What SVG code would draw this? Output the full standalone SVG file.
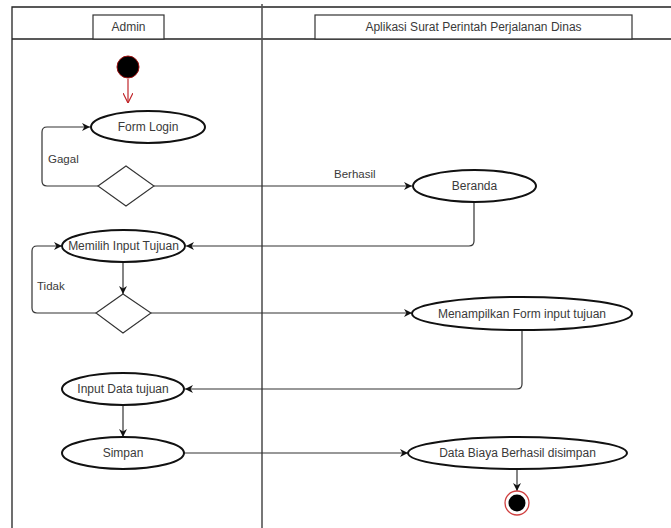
<svg xmlns="http://www.w3.org/2000/svg" width="671" height="528" viewBox="0 0 671 528">
<defs>
<style>
.frame{stroke:#222;stroke-width:1.3;fill:none}
.lane{fill:#fff;stroke:#333;stroke-width:1.2}
.act{fill:#fff;stroke:#111;stroke-width:2}
.dec{fill:#fff;stroke:#333;stroke-width:1.1}
.edge{fill:none;stroke:#333;stroke-width:1.2}
.t{font-family:"Liberation Sans",Arial,sans-serif;font-size:12px;fill:#3a3a3a;text-anchor:middle}
.lbl{font-family:"Liberation Sans",Arial,sans-serif;font-size:11.5px;fill:#3a3a3a}
.h{font-family:"Liberation Sans",Arial,sans-serif;font-size:12px;fill:#3a3a3a;text-anchor:middle}
</style>
<marker id="ah" viewBox="0 0 10 10" refX="10" refY="5" markerWidth="8" markerHeight="8" markerUnits="userSpaceOnUse" orient="auto">
<path d="M0,0 L10,5 L0,10 L3,5 Z" fill="#111"/>
</marker>
<marker id="ahr" viewBox="0 0 10 10" refX="10" refY="5" markerWidth="10" markerHeight="10" markerUnits="userSpaceOnUse" orient="auto">
<path d="M0,0 L10,5 L0,10" fill="none" stroke="#c0262a" stroke-width="1.2"/>
</marker>
</defs>
<rect width="671" height="528" fill="#fff"/>
<g id="frame">
<path class="frame" d="M671,7 H12 V528"/>
<path class="frame" d="M12,39 H671"/>
<line x1="262" y1="4" x2="262" y2="528" stroke="#555" stroke-width="1.6"/>
</g>
<g id="lane-admin">
<rect class="lane" x="93" y="15" width="71" height="24"/>
<text class="h" x="128.5" y="31">Admin</text>
</g>
<g id="lane-app">
<rect class="lane" x="315" y="15" width="317" height="24"/>
<text class="h" x="473.5" y="31">Aplikasi Surat Perintah Perjalanan Dinas</text>
</g>
<g id="connectors">
<line x1="128" y1="79" x2="128" y2="103" stroke="#c0262a" stroke-width="1.2" marker-end="url(#ahr)"/>
<path class="edge" d="M98,186 H47 Q42,186 42,181 V132 Q42,127 47,127 H90" marker-end="url(#ah)"/>
<line class="edge" x1="154" y1="186" x2="412" y2="186" marker-end="url(#ah)"/>
<path class="edge" d="M474,202 V241 Q474,246 469,246 H186" marker-end="url(#ah)"/>
<path class="edge" d="M96,313 H37 Q32,313 32,308 V251 Q32,246 37,246 H62" marker-end="url(#ah)"/>
<line class="edge" x1="123" y1="262" x2="123" y2="294" marker-end="url(#ah)"/>
<line class="edge" x1="151" y1="313" x2="412" y2="313" marker-end="url(#ah)"/>
<path class="edge" d="M522,330 V384 Q522,389 517,389 H185" marker-end="url(#ah)"/>
<line class="edge" x1="123" y1="405" x2="123" y2="437" marker-end="url(#ah)"/>
<line class="edge" x1="184" y1="453" x2="408" y2="453" marker-end="url(#ah)"/>
<line class="edge" x1="517" y1="469" x2="517" y2="491" marker-end="url(#ah)"/>
<text class="lbl" x="48" y="163">Gagal</text>
<text class="lbl" x="334" y="178">Berhasil</text>
<text class="lbl" x="37" y="290">Tidak</text>
</g>
<g id="start">
<circle cx="128" cy="67" r="11" fill="#000" stroke="#a01010" stroke-width="1"/>
</g>
<g id="form-login">
<ellipse class="act" cx="148" cy="127" rx="57" ry="16"/>
<text class="t" x="148" y="131">Form Login</text>
</g>
<g id="decision-login">
<polygon class="dec" points="98,186 126,166 154,186 126,206"/>
</g>
<g id="beranda">
<ellipse class="act" cx="474.5" cy="186" rx="61.5" ry="16"/>
<text class="t" x="474.5" y="190">Beranda</text>
</g>
<g id="memilih-input">
<ellipse class="act" cx="123.5" cy="246" rx="61.5" ry="16"/>
<text class="t" x="123.5" y="250">Memilih Input Tujuan</text>
</g>
<g id="decision-input">
<polygon class="dec" points="96,313 123,294 151,313 123,333"/>
</g>
<g id="menampilkan">
<ellipse class="act" cx="522" cy="313.5" rx="110" ry="16.5"/>
<text class="t" x="522" y="317.5">Menampilkan Form input tujuan</text>
</g>
<g id="input-data">
<ellipse class="act" cx="123" cy="389" rx="61" ry="16"/>
<text class="t" x="123" y="393">Input Data tujuan</text>
</g>
<g id="simpan">
<ellipse class="act" cx="123" cy="453" rx="61" ry="16"/>
<text class="t" x="123" y="457">Simpan</text>
</g>
<g id="data-biaya">
<ellipse class="act" cx="517.5" cy="453" rx="109.5" ry="16"/>
<text class="t" x="517.5" y="457">Data Biaya Berhasil disimpan</text>
</g>
<g id="end">
<circle cx="517" cy="503" r="12" fill="#fff" stroke="#d04040" stroke-width="1.3"/>
<circle cx="517" cy="503" r="8.5" fill="#000"/>
</g>
</svg>
